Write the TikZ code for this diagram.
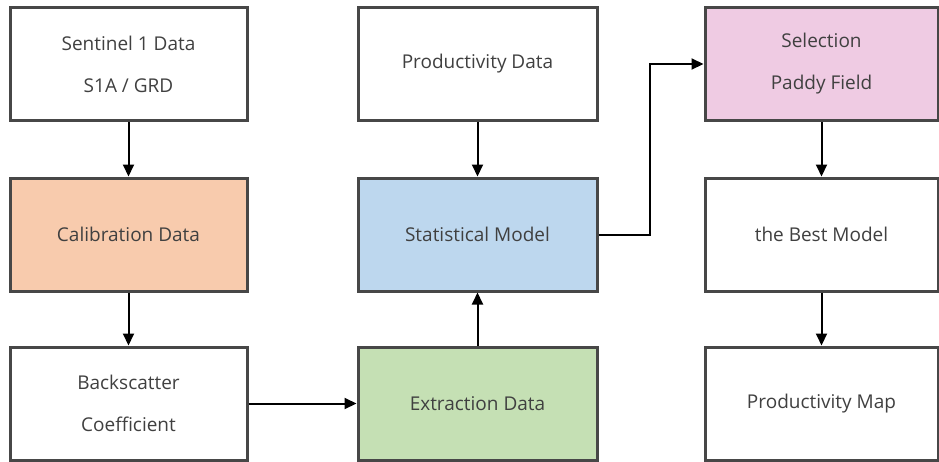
\documentclass[tikz,border=0pt]{standalone}
\usepackage{fontspec}
\setmainfont{Open Sans}
\usetikzlibrary{arrows.meta}
\definecolor{bordergray}{HTML}{474747}
\definecolor{textgray}{HTML}{404040}
\definecolor{fillorange}{HTML}{F8CBAD}
\definecolor{fillblue}{HTML}{BDD7EE}
\definecolor{fillgreen}{HTML}{C5E0B4}
\definecolor{fillpink}{HTML}{EFCBE3}
\begin{document}
\begin{tikzpicture}[x=1pt,y=-1pt,
  box/.style={draw=bordergray, line width=3pt, rectangle, fill=white,
    text=textgray, font=\fontsize{19}{42}\selectfont, align=center, inner sep=0pt},
  c1/.style={box, minimum width=237pt, minimum height=113pt},
  c2/.style={box, minimum width=239pt, minimum height=113pt},
  c3/.style={box, minimum width=233pt, minimum height=113pt},
  arr/.style={draw=black, line width=2pt, -{Triangle[length=12pt,width=11pt]}}
]
\useasboundingbox (0,0) rectangle (939,461);
\node[c1] (sen) at (128.5,64) {Sentinel 1 Data\\S1A / GRD};
\node[c1, fill=fillorange] (cal) at (128.5,234.5) {Calibration Data};
\node[c1] (bac) at (128.5,403.5) {Backscatter\\Coefficient};
\node[c2] (pro) at (477.5,64) {Productivity Data};
\node[c2, fill=fillblue] (sta) at (477.5,234.5) {Statistical Model};
\node[c2, fill=fillgreen] (ext) at (477.5,403.5) {Extraction Data};
\node[c3, fill=fillpink] (sel) at (821.5,64) {Selection\\Paddy Field};
\node[c3] (bes) at (821.5,234.5) {the Best Model};
\node[c3] (map) at (821.5,403.5) {Productivity Map};
\draw[arr] (sen) -- (cal);
\draw[arr] (cal) -- (bac);
\draw[arr] (bac) -- (ext);
\draw[arr] (ext) -- (sta);
\draw[arr] (pro) -- (sta);
\coordinate (k1) at (650,234.5);
\coordinate (k2) at (650,64);
\draw[arr] (sta.east) -- (k1) -- (k2) -- (sel.west);
\draw[arr] (sel) -- (bes);
\draw[arr] (bes) -- (map);
\end{tikzpicture}
\end{document}
